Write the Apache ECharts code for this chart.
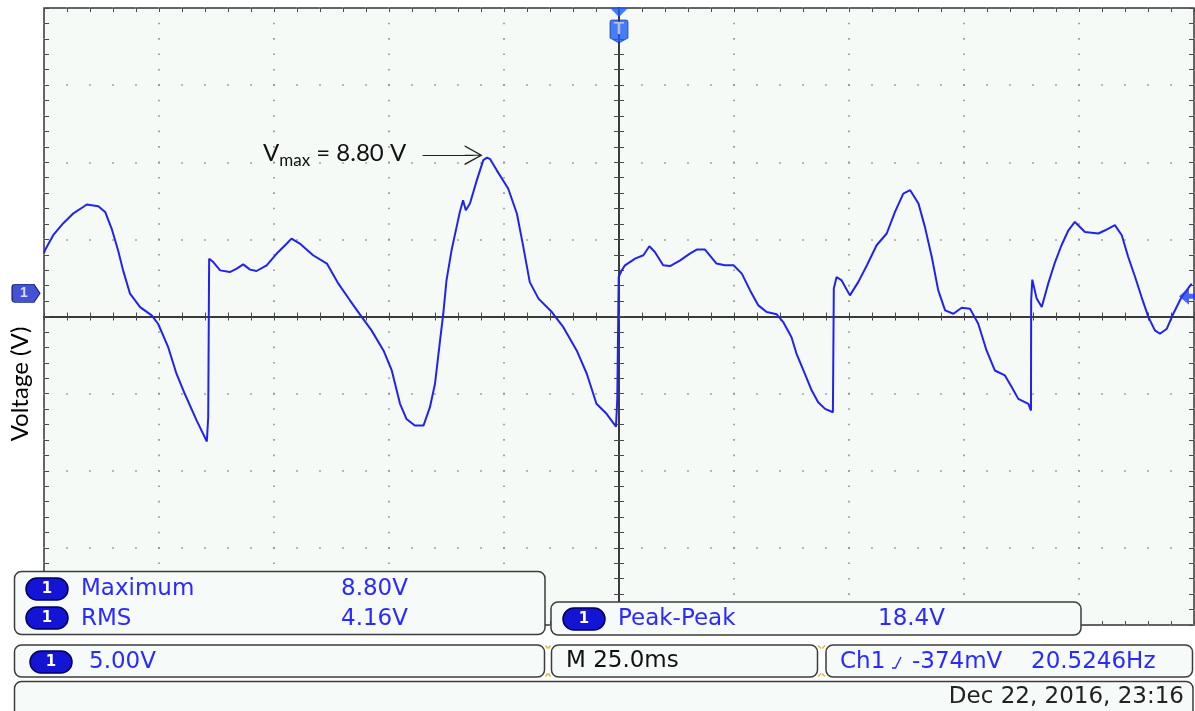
<!DOCTYPE html>
<html>
<head>
<meta charset="utf-8">
<script src="https://cdn.jsdelivr.net/npm/echarts@6/dist/echarts.min.js"></script>
<style>
  html, body { margin: 0; padding: 0; background: #fff; }
  #scope { width: 1195px; height: 711px; }
</style>
</head>
<body>
<div id="scope"></div>
<script>
// scope settings
var msPerDiv = 25;
var voltsPerDiv = 5;
var centerLevelV = -1.5;      // graticule centre sits 1.5 V below ground marker
var trigLevelV = -0.374;
var freqHz = '20.5246';
var vMax = 8.80, vRms = 4.16, vPeakPeak = 18.4;

// CH1 trace
var timeMs = [-125.0,-124.8,-123.0,-120.8,-118.6,-116.5,-115.7,-113.2,-111.7,-110.3,-108.9,
  -107.8,-106.3,-104.1,-101.6,-100.2,-98.0,-96.2,-94.4,-91.8,-89.6,
  -89.3,-89.1,-88.2,-86.7,-84.6,-83.1,-81.7,-80.2,-78.8,-76.6,
  -74.4,-72.2,-71.2,-69.4,-66.5,-63.5,-61.0,
  -58.5,-55.9,-53.8,-51.2,-49.4,-47.6,-46.2,-44.4,-42.5,-41.1,
  -40.0,-38.9,-38.2,-37.5,-36.4,-35.3,-34.6,-33.9,-33.3,-32.4,
  -30.9,-29.5,-28.7,-28.0,-26.6,-24.1,-22.2,-20.8,-19.4,-17.5,
  -14.6,-12.1,-9.2,-7.0,-4.9,-2.7,-0.65,-0.37,-0.07,0.59,
  1.3,3.5,5.3,6.6,7.8,9.6,11.1,13.3,15.4,16.9,
  18.7,21.2,23.0,24.9,26.7,28.5,30.3,32.1,34.3,35.7,
  37.5,38.6,40.1,41.9,43.3,44.8,46.5,46.7,47.3,48.4,
  50.2,52.0,53.9,56.0,58.2,60.0,61.8,63.3,
  65.1,66.5,68.0,69.4,70.9,72.7,74.5,76.3,78.1,79.9,
  81.7,83.9,85.4,86.8,89.0,89.56,89.6,89.85,90.8,91.9,
  93.3,94.8,96.2,97.7,99.1,101.3,104.2,105.7,107.8,109.3,
  110.7,112.2,113.6,115.1,116.5,117.6,119.1,120.5,122.3,124.5];
var volts = [2.60,2.79,3.77,4.55,5.19,5.60,5.76,5.65,5.28,4.20,2.79,
  1.49,-0.02,-0.89,-1.43,-1.97,-3.49,-5.21,-6.51,-8.25,-9.60,
  -8.03,2.25,2.03,1.49,1.38,1.60,1.88,1.54,1.45,1.82,
  2.58,3.23,3.55,3.23,2.47,1.93,0.63,
  -0.45,-1.54,-2.40,-3.70,-5.00,-7.16,-8.14,-8.57,-8.57,-7.38,
  -5.86,-3.05,-1.32,0.84,2.79,4.31,5.28,6.04,5.39,5.82,
  7.34,8.64,8.80,8.70,7.99,6.80,5.18,3.01,0.73,-0.34,
  -1.21,-2.19,-3.70,-5.21,-7.16,-7.81,-8.64,-6.84,1.06,1.49,
  1.82,2.25,2.47,3.05,2.68,1.82,1.77,2.14,2.58,2.84,
  2.84,1.93,1.82,1.82,1.28,0.19,-0.78,-1.21,-1.36,-1.86,
  -2.84,-3.92,-5.00,-6.30,-7.06,-7.49,-7.71,0.31,1.06,0.84,
  -0.13,0.73,1.82,3.12,3.88,5.28,6.47,6.69,
  5.82,4.31,2.36,0.19,-1.10,-1.32,-0.93,-0.99,-1.97,-3.70,
  -5.00,-5.32,-6.08,-6.84,-7.16,-7.60,-0.45,0.89,-0.34,-0.89,
  0.63,2.03,3.12,4.09,4.63,3.98,3.88,4.09,4.42,3.77,
  2.36,1.06,-0.24,-1.54,-2.40,-2.62,-2.29,-1.32,-0.24,0.63];

// arrow of the Vmax note (ms, V)
var noteArrowFrom = [-42.7, 8.96];
var noteArrowTo = [-31.6, 8.96];

var trace = timeMs.map(function(t, i) { return [t, volts[i]]; });

var tMin = -5 * msPerDiv, tMax = 5 * msPerDiv;
var yMin = centerLevelV - 4 * voltsPerDiv, yMax = centerLevelV + 4 * voltsPerDiv;

var gridLeft = 44, gridTop = 8, gridRight = 1, gridBottom = 86;
var gridW = 1195 - gridLeft - gridRight, gridH = 711 - gridTop - gridBottom;
var dotX = gridW / 50, dotY = gridH / 40;

var traceColor = '#2222ee';
var blue = '#2a2aff';
var ink = '#111';
var tickStyle = { color: '#4a4a4a', width: 1 };
var dotColor = '#8e8e8e';
var boxFont = '23px "DejaVu Sans"';

function xAx(pos, onZero, inside, split) {
  return {
    type: 'value', min: tMin, max: tMax, interval: msPerDiv, position: pos,
    axisLine: { show: onZero, onZero: onZero, onZeroAxisIndex: 1, lineStyle: { color: '#2e2e2e', width: 1.5 } },
    axisTick: { show: true, inside: inside, length: 4, lineStyle: tickStyle },
    minorTick: { show: true, splitNumber: 5, length: 4, lineStyle: tickStyle },
    axisLabel: { show: false },
    splitLine: split ? { show: true, lineStyle: { color: dotColor, width: 1.6, type: [1.6, dotY - 1.6], dashOffset: 0.8 } } : { show: false }
  };
}
function yAx(pos, onZero, inside, split) {
  return {
    type: 'value', min: -4, max: 4, interval: 1, position: pos,
    axisLine: { show: onZero, onZero: onZero, onZeroAxisIndex: 0, lineStyle: { color: '#2e2e2e', width: 1.5 } },
    axisTick: { show: true, inside: inside, length: 5, lineStyle: tickStyle },
    minorTick: { show: true, splitNumber: 5, length: 5, lineStyle: tickStyle },
    axisLabel: { show: false },
    splitLine: split ? { show: true, lineStyle: { color: dotColor, width: 1.6, type: [1.6, dotX - 1.6], dashOffset: 0.8 } } : { show: false }
  };
}

function box(x, y, w, h) {
  return { type: 'rect', z: 100, shape: { x: x, y: y, width: w, height: h, r: 7 },
    style: { fill: '#f6faf8', stroke: '#3c3c3c', lineWidth: 1.5 } };
}
function badge(x, y) {
  return [
    { type: 'rect', z: 101, shape: { x: x, y: y, width: 42, height: 22, r: 11 },
      style: { fill: '#1414d4', stroke: '#00005a', lineWidth: 1.5 } },
    { type: 'text', z: 102, style: { x: x + 21, y: y + 11.5, text: '1', fill: '#fff',
      font: 'bold 15px "DejaVu Sans"', align: 'center', verticalAlign: 'middle' } }
  ];
}
function txt(x, y, s, color, align) {
  return { type: 'text', z: 102, style: { x: x, y: y, text: s, fill: color, font: boxFont,
    align: align || 'left', verticalAlign: 'middle' } };
}
function yellow(pts) {
  return { type: 'polyline', z: 101, shape: { points: pts }, style: { stroke: '#d9b93c', lineWidth: 1.5, fill: null } };
}

var graphics = [
  box(14.5, 571.5, 530.5, 63), box(551, 602, 530, 33),
  box(14.5, 645, 530, 32), box(551.5, 645, 266, 32), box(826, 645, 366.5, 32),
  box(14.5, 681.5, 1178.5, 40),
  txt(81, 589, 'Maximum', blue), txt(341, 589, vMax.toFixed(2) + 'V', blue),
  txt(81, 619, 'RMS', blue), txt(341, 619, vRms.toFixed(2) + 'V', blue),
  txt(618, 619, 'Peak-Peak', blue), txt(878, 619, vPeakPeak.toFixed(1) + 'V', blue),
  txt(89, 662, voltsPerDiv.toFixed(2) + 'V', blue),
  txt(566, 661, 'M ' + msPerDiv.toFixed(1) + 'ms', ink),
  txt(840, 662, 'Ch1', blue),
  txt(912, 662, Math.round(trigLevelV * 1000) + 'mV', blue),
  txt(1031, 662, freqHz + 'Hz', blue),
  txt(1184, 697, 'Dec 22, 2016, 23:16', '#222', 'right'),
  { type: 'polyline', z: 102, shape: { points: [[892, 668], [895.5, 668], [901, 657]] },
    style: { stroke: blue, lineWidth: 1.4, fill: null } },
  yellow([[545.5, 645.5], [548, 648.5]]), yellow([[550.5, 645.5], [548.5, 648.5]]),
  yellow([[545.5, 676.5], [548, 673.5]]), yellow([[550.5, 676.5], [548.5, 673.5]]),
  yellow([[818, 645.5], [821, 648.5]]), yellow([[825, 645.5], [822, 648.5]]),
  yellow([[818, 676.5], [821, 673.5]]), yellow([[825, 676.5], [822, 673.5]]),
  { type: 'text', z: 50, x: 20, y: 384, rotation: Math.PI / 2,
    style: { x: 0, y: 0, text: 'Voltage (V)', font: '24px Lato', fill: '#000', align: 'center', verticalAlign: 'middle' } },
  { type: 'text', z: 50, style: { x: 263, y: 153, verticalAlign: 'middle', fill: ink,
    text: '{v|V}{s|max}{v| = ' + vMax.toFixed(2) + ' V}',
    rich: {
      v: { fontFamily: 'Lato', fontSize: 24, fill: ink, lineHeight: 32 },
      s: { fontFamily: 'Lato', fontSize: 17, fill: ink, lineHeight: 18, verticalAlign: 'bottom' }
    } } }
];
graphics = graphics.concat(badge(26, 578), badge(26, 607), badge(563, 608), badge(30, 651));

var arrowHead = 'path://M10,0 L20,18 L18.4,18 L10,2.6 L1.6,18 L0,18 Z M9.5,2 L10.5,2 L10.5,18 L9.5,18 Z';
var gndShape = 'path://M3,0 L22,0 L28,9 L22,18 L3,18 Q0,18 0,15 L0,3 Q0,0 3,0 Z';
var shieldShape = 'path://M2,0 L16,0 Q18,0 18,2 L18,18 L9,23 L0,18 L0,2 Q0,0 2,0 Z';
var trigArrow = 'path://M0,8.5 L10,0 L10,6 L16,6 L16,11 L10,11 L10,17 Z';

var chart = echarts.init(document.getElementById('scope'), null, { renderer: 'canvas' });
chart.setOption({
  animation: false,
  backgroundColor: '#fff',
  grid: { left: gridLeft, top: gridTop, right: gridRight, bottom: gridBottom, show: true,
    backgroundColor: '#f5faf7', borderColor: '#333', borderWidth: 1.5 },
  xAxis: [
    xAx('bottom', true, false, true),
    xAx('top', true, false, false),
    xAx('top', false, true, false),
    xAx('bottom', false, true, false)
  ],
  yAxis: [
    { type: 'value', min: yMin, max: yMax, position: 'left', show: false },
    yAx('left', true, false, true),
    yAx('right', true, false, false),
    yAx('left', false, true, false),
    yAx('right', false, true, false)
  ],
  series: [
    {
      name: 'CH1', type: 'line', xAxisIndex: 0, yAxisIndex: 0, data: trace,
      showSymbol: false, symbol: 'none', z: 5,
      lineStyle: { color: traceColor, width: 2 },
      markLine: {
        silent: true, symbol: ['none', arrowHead], symbolSize: [20, 18],
        lineStyle: { color: '#222', width: 1.2, type: 'solid' },
        label: { show: false },
        data: [[{ coord: noteArrowFrom }, { coord: noteArrowTo }]]
      }
    },
    {
      name: 'markers', type: 'scatter', xAxisIndex: 0, yAxisIndex: 0, clip: false, silent: true, z: 20,
      data: [
        { value: [tMin, 0], symbol: gndShape, symbolSize: [28, 18], symbolOffset: [-18, 0],
          itemStyle: { color: '#1428c8', borderColor: '#000a60', borderWidth: 1 },
          label: { show: true, position: 'inside', formatter: '1', color: '#fff', fontWeight: 'bold', fontSize: 14, offset: [-2, 0] } },
        { value: [tMax, trigLevelV], symbol: trigArrow, symbolSize: [16, 17], symbolOffset: [-7, -3],
          itemStyle: { color: '#1e3cf0' } },
        { value: [0, yMax], symbol: 'path://M0,0 L18,0 L9,9 Z', symbolSize: [18, 9], symbolOffset: [0, 4.5],
          itemStyle: { color: '#1a5cf5' } },
        { value: [0, yMax], symbol: shieldShape, symbolSize: [18, 23], symbolOffset: [0, 23.5],
          itemStyle: { color: '#1a5cf5', borderColor: '#0a2a90', borderWidth: 0.8 },
          label: { show: true, position: 'inside', formatter: 'T', color: '#d8d8d8', fontWeight: 'bold', fontSize: 17, offset: [0, -2] } }
      ]
    }
  ],
  graphic: graphics
});
window.addEventListener('resize', function() { chart.resize(); });
</script>
</body>
</html>
